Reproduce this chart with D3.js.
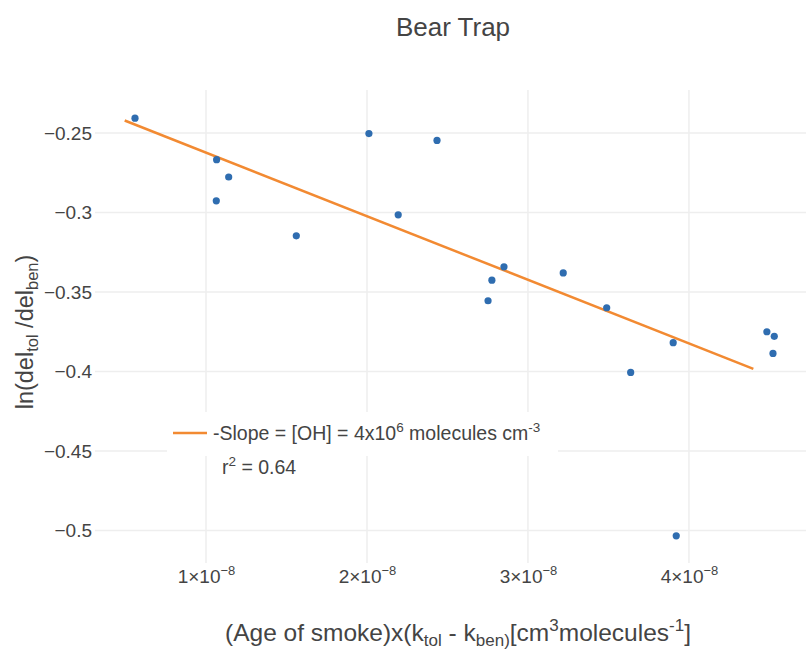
<!DOCTYPE html>
<html>
<head>
<meta charset="utf-8">
<script src="https://cdn.jsdelivr.net/npm/d3@7"></script>
<style>
  html, body { margin: 0; padding: 0; background: #fff; }
  svg { display: block; font-family: "Liberation Sans", Arial, Helvetica, sans-serif; }
</style>
</head>
<body>
<svg id="chart" width="806" height="651"></svg>
<script>
// ---- data ----
const ageX = [0.559e-8, 1.066e-8, 1.141e-8, 1.064e-8, 1.561e-8, 2.012e-8, 2.435e-8, 2.194e-8,
              2.851e-8, 2.776e-8, 2.752e-8, 3.219e-8, 3.489e-8, 3.902e-8, 3.638e-8, 4.484e-8,
              4.530e-8, 4.522e-8, 3.921e-8];
const lnRatio = [-0.2407, -0.2668, -0.2777, -0.2927, -0.3147, -0.2504, -0.2547, -0.3015,
                 -0.3342, -0.3426, -0.3555, -0.3380, -0.3599, -0.3819, -0.4006, -0.3750,
                 -0.3779, -0.3886, -0.5033];
const fitX = [0.495e-8, 4.40e-8];
const fitY = [-0.2422, -0.3983];
const xTicks = [1e-8, 2e-8, 3e-8, 4e-8];
const xTickMant = ["1", "2", "3", "4"];
const yTicks = [-0.25, -0.3, -0.35, -0.4, -0.45, -0.5];
const yTickLabels = ["\u22120.25", "\u22120.3", "\u22120.35", "\u22120.4", "\u22120.45", "\u22120.5"];

// ---- layout ----
const svg = d3.select("#chart");
const plot = { left: 95, right: 806, top: 90, bottom: 563 };
const x = d3.scaleLinear().domain([0.3106e-8, 4.727e-8]).range([plot.left, plot.right]);
const y = d3.scaleLinear().domain([-0.2230, -0.5204]).range([plot.top, plot.bottom]);
const textColor = "#444";
const gridColor = "#eeeeee";
const blue = "#2f6db0";
const orange = "#f28a32";

// helper: text with super/subscripts; parts = [[text, shiftPx(neg=up), small?]]
function richText(sel, parts, bigSize, smallSize) {
  let cur = 0;
  parts.forEach(p => {
    const shift = p[1];
    sel.append("tspan").attr("dy", (shift - cur) + "px")
      .style("font-size", (p[2] ? smallSize : bigSize) + "px").text(p[0]);
    cur = shift;
  });
}

// grid
const grid = svg.append("g");
grid.selectAll("line.gx").data(xTicks).enter().append("line")
  .attr("x1", d => x(d)).attr("x2", d => x(d))
  .attr("y1", plot.top).attr("y2", plot.bottom)
  .attr("stroke", gridColor).attr("stroke-width", 1.5);
grid.selectAll("line.gy").data(yTicks).enter().append("line")
  .attr("x1", plot.left).attr("x2", plot.right)
  .attr("y1", d => y(d)).attr("y2", d => y(d))
  .attr("stroke", gridColor).attr("stroke-width", 1.5);

// y axis
const yAxis = d3.axisLeft(y).tickValues(yTicks).tickSize(0).tickPadding(3)
  .tickFormat((d, i) => yTickLabels[i]);
const gy = svg.append("g").attr("transform", `translate(${plot.left},0)`).call(yAxis);
gy.select(".domain").remove();
gy.selectAll("text").attr("fill", textColor).style("font-size", "19px")
  .style("font-family", "'Liberation Sans', Arial, sans-serif");

// x axis
const xAxis = d3.axisBottom(x).tickValues(xTicks).tickSize(0).tickPadding(10).tickFormat("");
const gx = svg.append("g").attr("transform", `translate(0,${plot.bottom})`).call(xAxis);
gx.select(".domain").remove();
gx.selectAll(".tick").each(function(d, i) {
  const t = d3.select(this).select("text")
    .attr("fill", textColor)
    .style("font-family", "'Liberation Sans', Arial, sans-serif")
    .attr("dy", null).attr("y", 20);
  t.text(null);
  richText(t, [[xTickMant[i] + "\u00d710", 0, false], ["\u22128", -8, true]], 19, 13);
});

// fit line
const lineGen = d3.line().x(d => x(d[0])).y(d => y(d[1]));
svg.append("path").datum(fitX.map((v, i) => [v, fitY[i]]))
  .attr("d", lineGen).attr("fill", "none").attr("stroke", orange).attr("stroke-width", 2.5);

// points
svg.append("g").selectAll("circle").data(ageX.map((v, i) => [v, lnRatio[i]])).enter()
  .append("circle")
  .attr("cx", d => x(d[0])).attr("cy", d => y(d[1])).attr("r", 3.6)
  .attr("fill", blue);

// legend
const lg = svg.append("g");
lg.append("rect").attr("x", 167).attr("y", 412).attr("width", 391).attr("height", 44).attr("fill", "#fff");
lg.append("line").attr("x1", 173).attr("x2", 207).attr("y1", 433).attr("y2", 433)
  .attr("stroke", orange).attr("stroke-width", 2.5);
const lt1 = lg.append("text").attr("x", 213).attr("y", 440).attr("fill", textColor);
richText(lt1, [["-Slope = [OH] = 4x10", 0, false], ["6", -8, true], [" molecules cm", 0, false], ["-3", -8, true]], 19.5, 13.5);
const lt2 = lg.append("text").attr("x", 222).attr("y", 474).attr("fill", textColor);
richText(lt2, [["r", 0, false], ["2", -8, true], [" = 0.64", 0, false]], 19.5, 13.5);

// title
svg.append("text").attr("x", 453).attr("y", 36).attr("text-anchor", "middle")
  .attr("fill", textColor).style("font-size", "26px").text("Bear Trap");

// x axis title
const xt = svg.append("text").attr("x", 458).attr("y", 641).attr("text-anchor", "middle")
  .attr("fill", textColor);
richText(xt, [["(Age of smoke)x(k", 0, false], ["tol", 5, true], [" - k", 0, false], ["ben)", 5, true],
              ["[cm", 0, false], ["3", -10, true], ["molecules", 0, false], ["-1", -10, true], ["]", 0, false]], 24.5, 17);

// y axis title
const yt = svg.append("text").attr("transform", "translate(33,332) rotate(-90)")
  .attr("text-anchor", "middle").attr("fill", textColor);
richText(yt, [["ln(del", 0, false], ["tol", 5, true], [" /del", 0, false], ["ben", 5, true], [")", 0, false]], 23.5, 16.5);
</script>
</body>
</html>
